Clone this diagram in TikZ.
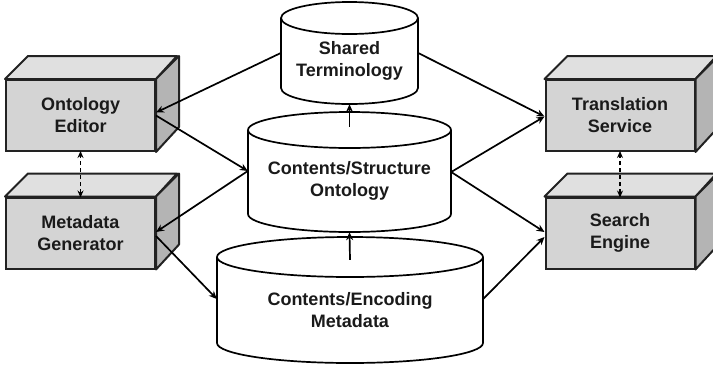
\documentclass[tikz,border=0pt]{standalone}
\usepackage{fontspec}
\setmainfont{Liberation Sans}
\usetikzlibrary{arrows.meta,calc}
\definecolor{frontgray}{HTML}{D4D4D4}
\definecolor{topgray}{HTML}{E0E0E0}
\definecolor{sidegray}{HTML}{B4B4B4}
\definecolor{edgegray}{HTML}{222222}
\definecolor{textgray}{HTML}{1A1A1A}
\tikzset{
  boxfront/.style={draw=edgegray, line width=2pt, fill=frontgray, minimum width=149pt, minimum height=71pt, inner sep=0pt, align=center, text=textgray, font=\bfseries\fontsize{18}{22}\selectfont},
  boxtop/.style={draw=edgegray, line width=2pt, fill=topgray, line join=round},
  boxside/.style={draw=edgegray, line width=2pt, fill=sidegray, line join=round},
  cylbody/.style={draw=black, line width=1.7pt, fill=white},
  cyltext/.style={inner sep=0pt, align=center, text=textgray, font=\bfseries\fontsize{18}{22}\selectfont},
  conn/.style={line width=1.7pt, -{Stealth[length=8pt,width=7pt]}},
  dconn/.style={line width=1.3pt, dash pattern=on 4pt off 3pt, {Stealth[length=7pt,width=6pt]}-{Stealth[length=7pt,width=6pt]}}
}
\newcommand{\mybox}[4]{% name, x, y, text
  \node[boxfront] (#1) at (#2,#3) {#4};
  \draw[boxtop] (#1.north west) -- ++(23,-23) -- ++(149,0) -- (#1.north east) -- cycle;
  \draw[boxside] (#1.north east) -- ++(23,-23) -- ++(0,71) -- (#1.south east) -- cycle;
}
\newcommand{\mycyl}[7]{% name, cx, halfwidth, topcy, botcy, ry, text
  \filldraw[cylbody] (#2-#3,#4) -- (#2-#3,#5) arc[start angle=180, end angle=360, x radius=#3, y radius=-#6] -- (#2+#3,#4);
  \filldraw[cylbody] (#2,#4) ellipse[x radius=#3, y radius=#6];
  \node[cyltext, minimum width=2*#3*1pt, minimum height=(#5-#4-#6)*1pt] (#1) at (#2,{(#4+#6+#5)/2}) {#7};
}
\begin{document}
\begin{tikzpicture}[x=1pt,y=-1pt]
\useasboundingbox (0,0) rectangle (713,365);
\clip (0,0) rectangle (713,365);
% boxes
\mybox{oe}{80.5}{115.5}{Ontology\\Editor}
\mybox{mg}{80.5}{233}{Metadata\\Generator}
\mybox{ts}{620}{115.5}{Translation\\Service}
\mybox{se}{620}{233}{Search\\Engine}
% cylinders
\mycyl{st}{349.5}{68.5}{18}{88}{16}{Shared\\Terminology}
\mycyl{cs}{349.5}{101.5}{130}{214}{18}{Contents/Structure\\Ontology}
\mycyl{ce}{350}{133}{257}{343}{20}{Contents/Encoding\\Metadata}
% connectors
\draw[conn] ([yshift=8pt]st.west) -- ([yshift=3pt]oe.east);
\draw[conn] (oe.east) -- ([yshift=10pt]cs.west);
\draw[conn] ([yshift=10pt]cs.west) -- ([yshift=1pt]mg.east);
\draw[conn] ([yshift=-3pt]mg.east) -- ([yshift=11pt]ce.west);
\draw[conn] ([yshift=8pt]st.east) -- ([yshift=-1pt]ts.west);
\draw[conn] ([yshift=9pt]cs.east) -- ([yshift=-1pt]ts.west);
\draw[conn] ([yshift=9pt]cs.east) -- ([yshift=1pt]se.west);
\draw[conn] ([yshift=11pt]ce.east) -- ([yshift=-4pt]se.west);
\draw[conn] ([yshift=21pt]cs.north) -- ([yshift=-16pt]st.south);
\draw[conn] ([yshift=17pt]ce.north) -- ([yshift=-18pt]cs.south);
\draw[dconn] ([yshift=-1pt]mg.north) -- ([yshift=1pt]oe.south);
\draw[dconn] ([yshift=-1pt]se.north) -- ([yshift=1pt]ts.south);
\end{tikzpicture}
\end{document}
